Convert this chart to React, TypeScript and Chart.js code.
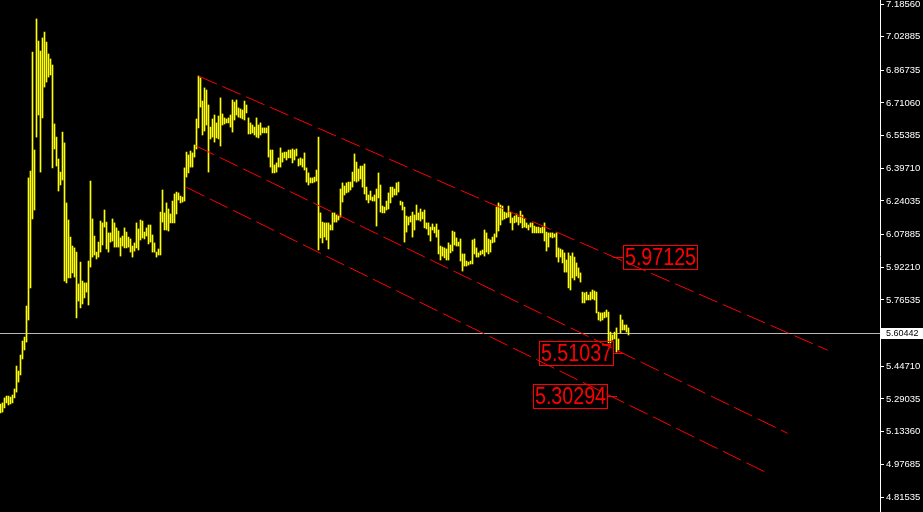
import React, { useEffect, useRef } from "react";
import { Chart, registerables } from "chart.js";

Chart.register(...registerables);

// Bar highs (one bar every index)
const highs = [
  5.266, 5.271, 5.295, 5.304, 5.304, 5.299, 5.309, 5.338, 5.448, 5.424,
  5.501, 5.568, 5.587, 5.736, 6.351, 6.384, 6.955, 6.485, 7.114, 7.008,
  6.960, 7.023, 7.051, 7.003, 6.946, 6.922, 6.893, 6.610, 6.547, 6.442,
  6.379, 6.571, 6.519, 6.231, 6.149, 6.067, 6.024, 6.015, 5.995, 5.842,
  5.947, 5.856, 5.847, 5.847, 5.952, 6.336, 6.154, 6.072, 5.995, 6.043,
  6.144, 6.135, 6.197, 6.139, 6.087, 6.087, 6.154, 6.135, 6.111, 6.096,
  6.063, 6.072, 6.111, 6.091, 6.067, 6.058, 6.024, 6.039, 6.135, 6.106,
  6.149, 6.144, 6.091, 6.111, 6.125, 6.125, 6.077, 6.039, 5.995, 6.010,
  6.187, 6.293, 6.183, 6.231, 6.202, 6.178, 6.240, 6.274, 6.283, 6.279,
  6.264, 6.259, 6.399, 6.475, 6.461, 6.480, 6.471, 6.509, 6.634, 6.840,
  6.831, 6.720, 6.783, 6.773, 6.701, 6.595, 6.634, 6.653, 6.615, 6.648,
  6.735, 6.658, 6.639, 6.634, 6.639, 6.653, 6.725, 6.715, 6.725, 6.687,
  6.682, 6.677, 6.720, 6.701, 6.639, 6.615, 6.605, 6.595, 6.639, 6.605,
  6.615, 6.591, 6.591, 6.591, 6.600, 6.485, 6.485, 6.413, 6.423, 6.447,
  6.495, 6.471, 6.475, 6.475, 6.485, 6.485, 6.490, 6.485, 6.490, 6.442,
  6.447, 6.442, 6.471, 6.399, 6.375, 6.351, 6.351, 6.355, 6.389, 6.547,
  6.183, 6.139, 6.135, 6.135, 6.135, 6.125, 6.183, 6.183, 6.173, 6.168,
  6.298, 6.327, 6.312, 6.327, 6.331, 6.331, 6.379, 6.466, 6.427, 6.394,
  6.408, 6.408, 6.418, 6.307, 6.269, 6.288, 6.259, 6.269, 6.298, 6.375,
  6.317, 6.216, 6.211, 6.240, 6.279, 6.307, 6.307, 6.298, 6.327, 6.331,
  6.240, 6.235, 6.211, 6.168, 6.163, 6.168, 6.187, 6.173, 6.221, 6.183,
  6.202, 6.187, 6.197, 6.135, 6.135, 6.115, 6.130, 6.115, 6.130, 6.101,
  6.024, 6.019, 6.015, 6.010, 6.039, 6.029, 6.096, 6.091, 6.063, 6.043,
  6.058, 5.986, 5.986, 5.952, 5.947, 5.952, 6.053, 6.058, 6.015, 5.991,
  6.000, 6.005, 6.101, 6.087, 6.058, 6.053, 6.067, 6.082, 6.211, 6.231,
  6.221, 6.216, 6.187, 6.183, 6.216, 6.187, 6.159, 6.168, 6.178, 6.163,
  6.192, 6.173, 6.154, 6.135, 6.125, 6.135, 6.135, 6.120, 6.115, 6.115,
  6.111, 6.115, 6.135, 6.091, 6.087, 6.087, 6.087, 6.082, 6.087, 6.015,
  6.010, 6.005, 5.991, 5.957, 5.991, 5.976, 5.991, 5.971, 5.943, 5.919,
  5.895, 5.803, 5.799, 5.803, 5.789, 5.803, 5.813, 5.808, 5.803, 5.707,
  5.703, 5.703, 5.707, 5.717, 5.707, 5.611, 5.597, 5.611, 5.631, 5.578,
  5.693, 5.669, 5.645, 5.645, 5.631,
];

// Bar lows
const lows = [
  5.223, 5.227, 5.247, 5.271, 5.261, 5.266, 5.271, 5.295, 5.323, 5.371,
  5.405, 5.482, 5.525, 5.563, 5.669, 5.823, 6.154, 6.197, 6.547, 6.653,
  6.379, 6.639, 6.787, 6.811, 6.835, 6.845, 6.399, 6.490, 6.408, 6.288,
  6.317, 6.341, 5.856, 5.847, 5.871, 5.871, 5.895, 5.875, 5.679, 5.760,
  5.727, 5.746, 5.775, 5.803, 5.741, 5.923, 5.971, 5.981, 5.962, 5.971,
  5.995, 6.029, 6.115, 6.010, 5.995, 6.043, 6.048, 6.019, 6.019, 6.019,
  5.976, 6.024, 6.015, 6.015, 6.019, 5.995, 5.971, 6.000, 6.015, 6.005,
  6.053, 6.063, 6.058, 6.072, 6.034, 6.043, 5.995, 5.995, 5.971, 5.981,
  5.981, 6.139, 6.101, 6.101, 6.096, 6.135, 6.135, 6.135, 6.178, 6.245,
  6.231, 6.235, 6.240, 6.355, 6.375, 6.403, 6.403, 6.451, 6.490, 6.591,
  6.691, 6.557, 6.576, 6.605, 6.379, 6.538, 6.547, 6.523, 6.543, 6.538,
  6.504, 6.605, 6.610, 6.615, 6.615, 6.595, 6.571, 6.629, 6.653, 6.643,
  6.639, 6.634, 6.629, 6.663, 6.562, 6.562, 6.567, 6.557, 6.547, 6.543,
  6.557, 6.567, 6.567, 6.567, 6.451, 6.403, 6.375, 6.375, 6.379, 6.403,
  6.403, 6.427, 6.447, 6.437, 6.447, 6.447, 6.423, 6.437, 6.456, 6.408,
  6.413, 6.403, 6.389, 6.331, 6.317, 6.327, 6.327, 6.331, 6.336, 6.005,
  6.063, 6.039, 6.067, 6.053, 6.010, 6.101, 6.101, 6.139, 6.139, 6.149,
  6.163, 6.235, 6.269, 6.279, 6.283, 6.293, 6.307, 6.336, 6.331, 6.336,
  6.346, 6.307, 6.274, 6.245, 6.231, 6.245, 6.240, 6.240, 6.120, 6.255,
  6.187, 6.183, 6.183, 6.197, 6.202, 6.231, 6.259, 6.269, 6.269, 6.283,
  6.221, 6.197, 6.043, 6.091, 6.125, 6.139, 6.067, 6.101, 6.149, 6.149,
  6.144, 6.154, 6.111, 6.106, 6.077, 6.048, 6.101, 6.087, 6.067, 5.986,
  5.957, 5.976, 5.967, 5.957, 5.957, 5.991, 6.000, 6.029, 6.024, 6.024,
  5.952, 5.904, 5.928, 5.928, 5.933, 5.938, 5.938, 5.986, 5.971, 5.971,
  5.981, 5.986, 5.976, 5.995, 5.986, 5.995, 6.039, 6.043, 6.067, 6.096,
  6.125, 6.149, 6.154, 6.159, 6.163, 6.135, 6.101, 6.135, 6.139, 6.125,
  6.135, 6.111, 6.115, 6.111, 6.101, 6.115, 6.087, 6.087, 6.087, 6.087,
  6.087, 6.087, 6.048, 6.000, 6.019, 6.067, 6.063, 6.067, 5.971, 5.947,
  5.971, 5.943, 5.899, 5.899, 5.823, 5.813, 5.871, 5.861, 5.880, 5.871,
  5.851, 5.751, 5.751, 5.765, 5.765, 5.765, 5.770, 5.765, 5.703, 5.669,
  5.664, 5.669, 5.679, 5.683, 5.559, 5.559, 5.573, 5.578, 5.515, 5.525,
  5.607, 5.621, 5.621, 5.611, 5.597,
];

// Price axis tick labels
const yTicks = [
  7.1856, 7.02885, 6.86735, 6.7106, 6.55385, 6.3971, 6.24035, 6.07885,
  5.9221, 5.76535, 5.4471, 5.29035, 5.1336, 4.97685, 4.81535,
];

const bidPrice = 5.60442;

// Channel lines: [bar index, price] start and end
const upperLine = [[99, 6.84], [413.6, 5.524]];
const middleLine = [[97.9, 6.504], [393.6, 5.125]];
const lowerLine = [[92.9, 6.306], [382.6, 4.938]];

// Price labels: value, anchor bar index, side of the box
const labelValues = [5.97125, 5.51037, 5.30294];
const labelAnchors = [306.25, 311.25, 308.1];
const labelSides = ["right", "left", "left"];

const Y_MIN = 4.7474;
const Y_MAX = 7.205;

export default function App() {
  const ref = useRef<HTMLCanvasElement>(null);

  useEffect(() => {
    const canvas = ref.current;
    if (!canvas) return;

    const bars = highs.map((h, i) => ({ x: i, y: [lows[i], h] }));
    const lines = [upperLine, middleLine, lowerLine];

    const overlay = {
      id: "overlay",
      beforeDraw(chart: any) {
        const ctx = chart.ctx;
        ctx.save();
        ctx.fillStyle = "#000000";
        ctx.fillRect(0, 0, chart.width, chart.height);
        ctx.restore();
      },
      beforeDatasetsDraw(chart: any) {
        const ctx = chart.ctx;
        const ys = chart.scales.y;
        const a = chart.chartArea;
        const y = Math.round(ys.getPixelForValue(bidPrice)) + 0.5;
        ctx.save();
        ctx.strokeStyle = "#b4b8bc";
        ctx.lineWidth = 1;
        ctx.beginPath();
        ctx.moveTo(a.left, y);
        ctx.lineTo(a.right, y);
        ctx.stroke();
        ctx.restore();
      },
      afterDatasetsDraw(chart: any) {
        const ctx = chart.ctx;
        const xs = chart.scales.x;
        const ys = chart.scales.y;
        const squeeze = 0.82;
        ctx.save();
        ctx.font = "24px 'Liberation Sans', sans-serif";
        ctx.textBaseline = "middle";
        ctx.textAlign = "center";
        ctx.strokeStyle = "#ff0000";
        ctx.fillStyle = "#ff0000";
        ctx.lineWidth = 1;
        labelValues.forEach((v, i) => {
          const text = v.toFixed(5);
          const px = Math.round(xs.getPixelForValue(labelAnchors[i]));
          const py = Math.round(ys.getPixelForValue(v));
          const w = Math.round(ctx.measureText(text).width * squeeze) + 3;
          const h = 24;
          const gap = 10;
          let left: number;
          ctx.beginPath();
          if (labelSides[i] === "right") {
            ctx.moveTo(px, py + 0.5);
            ctx.lineTo(px + gap, py + 0.5);
            left = px + gap;
          } else {
            ctx.moveTo(px - gap, py + 0.5);
            ctx.lineTo(px, py + 0.5);
            left = px - gap - w;
          }
          ctx.stroke();
          const top = py - Math.round(h / 2);
          ctx.strokeRect(left + 0.5, top + 0.5, w, h);
          ctx.save();
          ctx.translate(left + w / 2 + 0.5, top + h / 2 + 1.5);
          ctx.scale(squeeze, 1);
          ctx.fillText(text, 0, 0);
          ctx.restore();
        });
        ctx.restore();
      },
      afterDraw(chart: any) {
        const ctx = chart.ctx;
        const ys = chart.scales.y;
        const a = chart.chartArea;
        const y = Math.round(ys.getPixelForValue(bidPrice));
        ctx.save();
        ctx.fillStyle = "#ffffff";
        ctx.fillRect(a.right + 1, y - 5, chart.width - a.right - 1, 11);
        ctx.fillStyle = "#000000";
        ctx.font = "9px 'Liberation Sans', sans-serif";
        ctx.textBaseline = "middle";
        ctx.textAlign = "left";
        ctx.fillText(bidPrice.toFixed(5), a.right + 6, y + 0.5);
        ctx.restore();
      },
    };

    const chart = new Chart(canvas, {
      type: "bar",
      data: {
        datasets: [
          {
            type: "bar",
            data: bars as any,
            backgroundColor: "#ffff00",
            borderWidth: 0,
            barThickness: 1,
            order: 2,
          } as any,
          ...lines.map((l) => ({
            type: "line",
            data: l.map(([x, y]) => ({ x, y })),
            borderColor: "#ff0000",
            borderWidth: 1,
            borderDash: [20, 6],
            pointRadius: 0,
            fill: false,
            tension: 0,
            order: 1,
          })),
        ],
      },
      options: {
        animation: false,
        responsive: false,
        events: [],
        layout: { padding: 0 },
        plugins: { legend: { display: false }, tooltip: { enabled: false } },
        scales: {
          x: {
            type: "linear",
            min: -0.25,
            max: 439.75,
            display: false,
            offset: false,
          },
          y: {
            type: "linear",
            position: "right",
            min: Y_MIN,
            max: Y_MAX,
            bounds: "data",
            afterBuildTicks: (s: any) => {
              s.ticks = yTicks.map((v) => ({ value: v }));
            },
            afterFit: (s: any) => {
              s.width = 43;
              s.paddingTop = 0;
              s.paddingBottom = 0;
            },
            grid: {
              drawOnChartArea: false,
              drawTicks: true,
              tickLength: 4,
              color: "#ffffff",
            },
            border: { display: true, color: "#ffffff", width: 1 },
            ticks: {
              color: "#ffffff",
              autoSkip: false,
              padding: 2,
              font: { family: "'Liberation Sans', sans-serif", size: 9.5 },
              callback: (v: any) => Number(v).toFixed(5),
            },
          },
        },
      } as any,
      plugins: [overlay],
    });

    return () => chart.destroy();
  }, []);

  return (
    <div
      style={{
        position: "fixed",
        left: 0,
        top: 0,
        width: 923,
        height: 512,
        background: "#000",
      }}
    >
      <canvas ref={ref} width={923} height={512} style={{ display: "block" }} />
    </div>
  );
}
